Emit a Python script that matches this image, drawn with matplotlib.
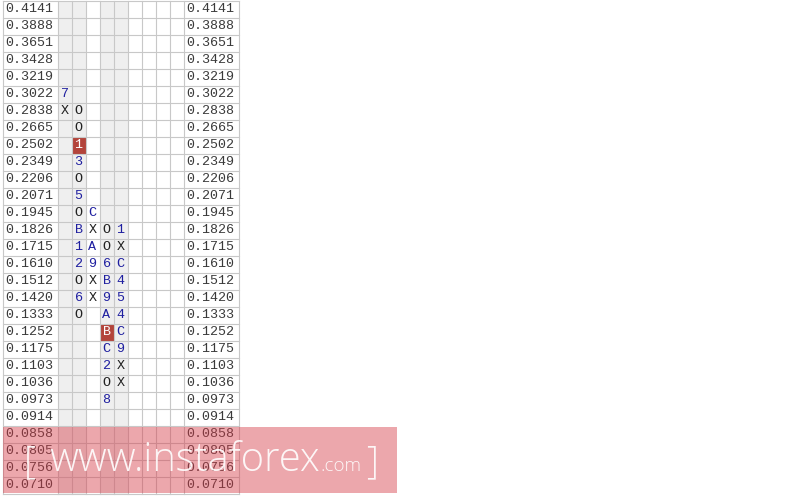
import matplotlib
matplotlib.use('Agg')
import matplotlib.pyplot as plt
from matplotlib.patches import Rectangle

# price levels, top to bottom
prices = ['0.4141', '0.3888', '0.3651', '0.3428', '0.3219', '0.3022', '0.2838',
          '0.2665', '0.2502', '0.2349', '0.2206', '0.2071', '0.1945', '0.1826',
          '0.1715', '0.1610', '0.1512', '0.1420', '0.1333', '0.1252', '0.1175',
          '0.1103', '0.1036', '0.0973', '0.0914', '0.0858', '0.0805', '0.0756',
          '0.0710']

# point & figure columns: list of (price, mark)
col0 = [('0.3022', '7'), ('0.2838', 'X')]
col1 = [('0.2838', 'O'), ('0.2665', 'O'), ('0.2502', '1'), ('0.2349', '3'),
        ('0.2206', 'O'), ('0.2071', '5'), ('0.1945', 'O'), ('0.1826', 'B'),
        ('0.1715', '1'), ('0.1610', '2'), ('0.1512', 'O'), ('0.1420', '6'),
        ('0.1333', 'O')]
col2 = [('0.1945', 'C'), ('0.1826', 'X'), ('0.1715', 'A'), ('0.1610', '9'),
        ('0.1512', 'X'), ('0.1420', 'X')]
col3 = [('0.1826', 'O'), ('0.1715', 'O'), ('0.1610', '6'), ('0.1512', 'B'),
        ('0.1420', '9'), ('0.1333', 'A'), ('0.1252', 'B'), ('0.1175', 'C'),
        ('0.1103', '2'), ('0.1036', 'O'), ('0.0973', '8')]
col4 = [('0.1826', '1'), ('0.1715', 'X'), ('0.1610', 'C'), ('0.1512', '4'),
        ('0.1420', '5'), ('0.1333', '4'), ('0.1252', 'C'), ('0.1175', '9'),
        ('0.1103', 'X'), ('0.1036', 'X')]
columns = [col0, col1, col2, col3, col4]
n_cols = 9
shaded_cols = [0, 1, 3, 4]
highlight = [(1, '0.2502'), (3, '0.1252')]   # year-start boxes

W, H = 798, 496
fig = plt.figure(figsize=(W / 100, H / 100), dpi=100)
ax = fig.add_axes([0, 0, 1, 1])
ax.set_xlim(0, W)
ax.set_ylim(H, 0)
ax.axis('off')

top = 0.5
rh = 17
lab_l, lab_w = 2.5, 55
cw = 14
grid_x0 = lab_l + lab_w
right_x0 = grid_x0 + n_cols * cw
right_x1 = right_x0 + lab_w
n_rows = len(prices)
bottom = top + n_rows * rh
grid_c = '#c8c8c8'
mono = 'Liberation Mono'

for c in shaded_cols:
    ax.add_patch(Rectangle((grid_x0 + c * cw, top), cw, n_rows * rh,
                           facecolor='#efefef', edgecolor='none', zorder=0))

for ci, p in highlight:
    r = prices.index(p)
    ax.add_patch(Rectangle((grid_x0 + ci * cw, top + r * rh), cw, rh,
                           facecolor='#b3443b', edgecolor='none', zorder=1))

# grid lines
for i in range(n_rows + 1):
    ax.plot([lab_l, right_x1], [top + i * rh] * 2, color=grid_c, lw=0.8, zorder=2)
xs = [lab_l, grid_x0] + [grid_x0 + k * cw for k in range(1, n_cols + 1)] + [right_x1]
for x in xs:
    ax.plot([x, x], [top, bottom], color=grid_c, lw=0.8, zorder=2)

for i, p in enumerate(prices):
    y = top + (i + 0.5) * rh
    ax.text(lab_l + 3, y, p, family=mono, fontsize=9.6, color='#3a3a3a',
            va='center', ha='left', zorder=3)
    ax.text(right_x0 + 3, y, p, family=mono, fontsize=9.6, color='#3a3a3a',
            va='center', ha='left', zorder=3)

for ci, col in enumerate(columns):
    for p, m in col:
        r = prices.index(p)
        if (ci, p) in highlight:
            color = 'white'
        elif m in ('X', 'O'):
            color = '#222222'
        else:
            color = '#1f1fa0'
        ax.text(grid_x0 + (ci + 0.5) * cw, top + (r + 0.5) * rh, m, family=mono,
                fontsize=9.6, color=color, ha='center', va='center', zorder=3)

# watermark
ax.add_patch(Rectangle((3, 427), 394, 66, facecolor='#d63c48', alpha=0.45,
                       edgecolor='none', zorder=4))
wm = dict(family='Open Sans', fontweight='light', color='white', va='baseline',
          ha='left', zorder=5, alpha=0.9)
ax.text(24, 473, '[', fontsize=27, **wm)
ax.text(49, 471, 'www.instaforex', fontsize=28.7, **wm)
ax.text(320, 471, '.com', fontsize=13.5, **wm)
ax.text(366, 473, ']', fontsize=27, **wm)

fig.savefig('out.png', dpi=100)
